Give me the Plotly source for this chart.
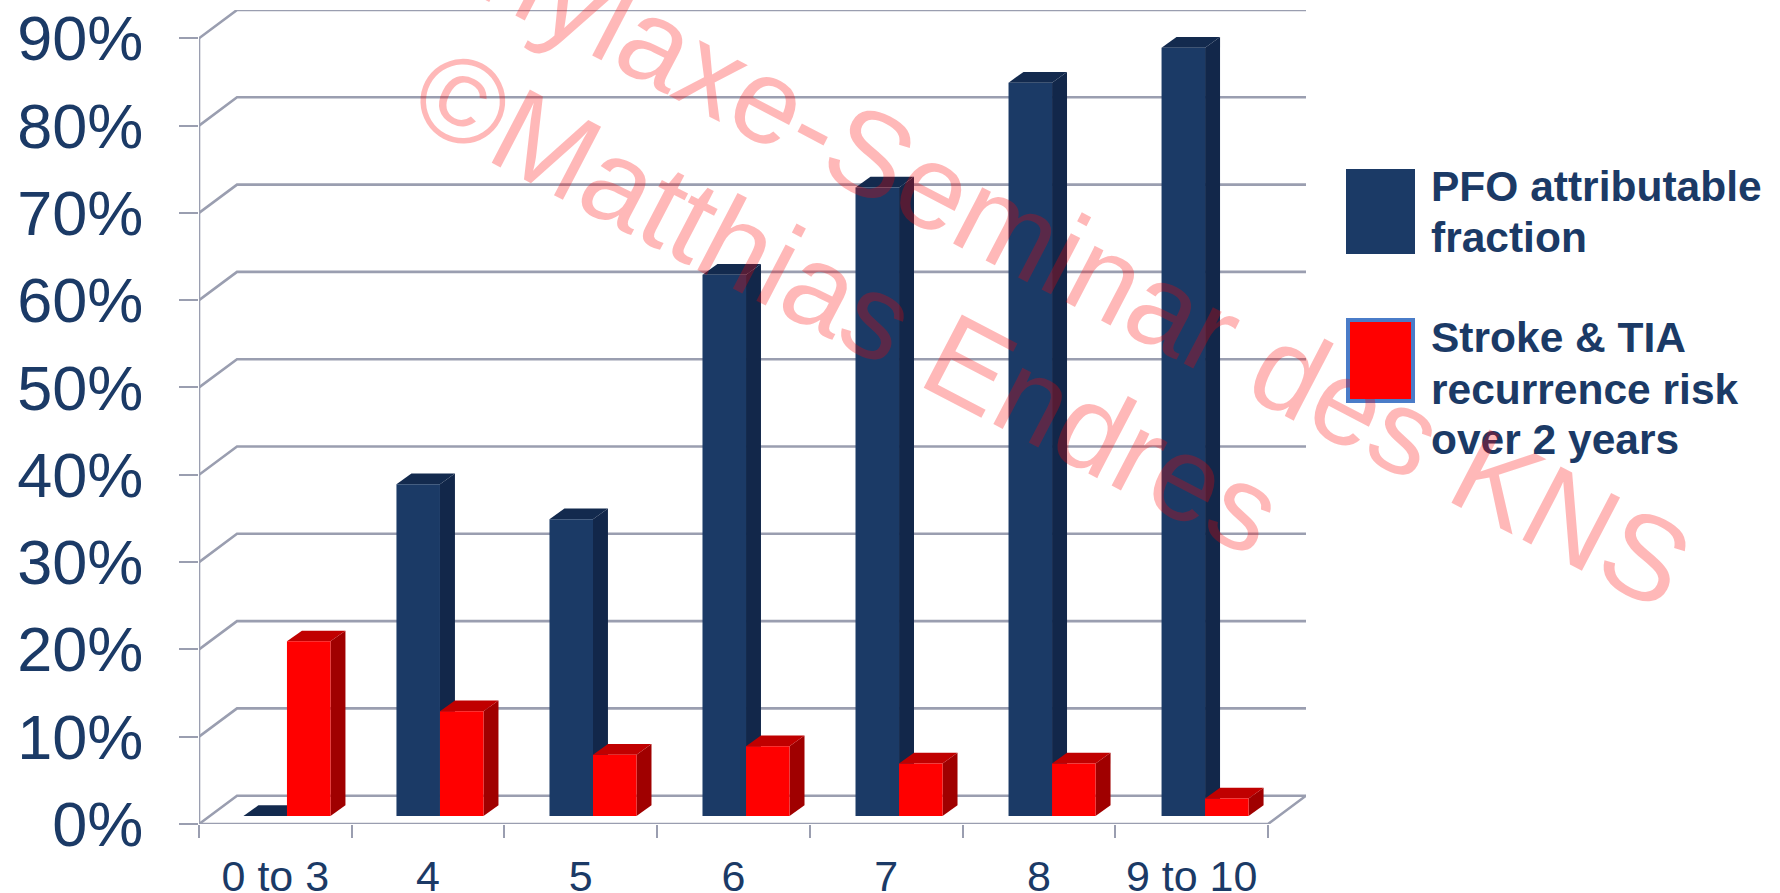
import plotly.graph_objects as go

# Chart data
categories = ["0 to 3", "4", "5", "6", "7", "8", "9 to 10"]
pfo_fraction = [0, 38, 34, 62, 72, 84, 88]
recurrence_risk = [20, 12, 7, 8, 6, 6, 2]
percent_ticks = [0, 10, 20, 30, 40, 50, 60, 70, 80, 90]
percent_labels = ["0%", "10%", "20%", "30%", "40%", "50%", "60%", "70%", "80%", "90%"]
series_names = [["PFO attributable", "fraction"],
                ["Stroke & TIA", "recurrence risk", "over 2 years"]]

# Canvas and plot placement, in pixels
W, H = 1780, 893
LEFT, RIGHT, TOP, BOTTOM = 199, 1306, 10, 824

# Perspective offsets, in axis units
WALL_DX, WALL_DY = 0.2489, 3.24
BAR_DX, BAR_DY = 0.098, 1.23
BAR_WIDTH, BAR_FLOOR = 0.285, 0.92
BAR_PITCH, BAR_SPLIT = 1.002, 0.576

INK = "#1B3A66"
GRID = "#9A9EB0"
NAVY, NAVY_SIDE, NAVY_TOP = "#1B3A66", "#12274A", "#132A4E"
RED, RED_SIDE, RED_TOP = "#FF0000", "#A00000", "#C00000"

n = len(categories)
x_max = n + WALL_DX
y_max = percent_ticks[-1] + WALL_DY


def data_x(px):
    return (px - LEFT) / (RIGHT - LEFT) * x_max


def data_y(py):
    return (BOTTOM - py) / (BOTTOM - TOP) * y_max


fig = go.Figure()


def add_line(xs, ys):
    fig.add_trace(go.Scatter(x=xs, y=ys, mode="lines", cliponaxis=False,
                             line=dict(color=GRID, width=2.6), hoverinfo="skip",
                             showlegend=False))


def add_face(xs, ys, color):
    fig.add_trace(go.Scatter(x=xs, y=ys, mode="lines", fill="toself", fillcolor=color,
                             line=dict(width=0), cliponaxis=False, hoverinfo="skip",
                             showlegend=False))


# Back wall gridlines with their slanted run back from the value axis
for v in percent_ticks:
    add_line([0, WALL_DX, n + WALL_DX], [v, v + WALL_DY, v + WALL_DY])

# Floor front edge, right floor edge and the value axis
add_line([0, n, n + WALL_DX], [0, 0, WALL_DY])
add_line([0, 0], [0, percent_ticks[-1]])

bar_lefts = [[BAR_SPLIT + BAR_PITCH * i - BAR_WIDTH for i in range(n)],
             [BAR_SPLIT + BAR_PITCH * i for i in range(n)]]

# Extruded side and top faces sit behind the front faces
series = [(pfo_fraction, bar_lefts[0], NAVY, NAVY_SIDE, NAVY_TOP),
          (recurrence_risk, bar_lefts[1], RED, RED_SIDE, RED_TOP)]
for values, lefts, front, side, top in series:
    for x0, v in zip(lefts, values):
        x1 = x0 + BAR_WIDTH
        y1 = v + BAR_FLOOR
        if v > 0:
            add_face([x1, x1 + BAR_DX, x1 + BAR_DX, x1],
                     [BAR_FLOOR, BAR_FLOOR + BAR_DY, y1 + BAR_DY, y1], side)
        add_face([x0, x0 + BAR_DX, x1 + BAR_DX, x1],
                 [y1, y1 + BAR_DY, y1 + BAR_DY, y1], top)

# Front faces
for values, lefts, front, side, top in series:
    fig.add_trace(go.Bar(x=[x + BAR_WIDTH / 2 for x in lefts], y=values,
                         base=BAR_FLOOR, width=BAR_WIDTH, zorder=2,
                         marker=dict(color=front, line=dict(width=0)),
                         cliponaxis=False, showlegend=False))

# Legend swatches and labels
shapes = [
    dict(type="rect", xref="paper", yref="paper", x0=1346 / W, x1=1415 / W,
         y0=1 - 169 / H, y1=1 - 254 / H, fillcolor=NAVY, line=dict(width=0)),
    dict(type="rect", xref="paper", yref="paper", x0=1348 / W, x1=1413 / W,
         y0=1 - 320 / H, y1=1 - 401 / H, fillcolor=RED,
         line=dict(color="#4A7CC8", width=4)),
]

legend_centers = [[186, 237], [337, 389, 440]]
annotations = []
for lines, centers in zip(series_names, legend_centers):
    for text, cy in zip(lines, centers):
        annotations.append(dict(
            text=f"<b>{text}</b>", xref="paper", yref="paper", x=1429 / W, y=1 - cy / H,
            xanchor="left", yanchor="middle", showarrow=False,
            font=dict(family="Liberation Sans", size=42.5, color=INK)))

# Diagonal copyright notices laid over the whole chart
WATERMARK = "rgba(255,0,0,0.28)"
for text, cx, cy in [("Prophylaxe-Seminar des KNS", 974, 207),
                     ("©Matthias Endres", 848, 301)]:
    annotations.append(dict(
        text=text, xref="x", yref="y", x=data_x(cx), y=data_y(cy),
        xanchor="center", yanchor="middle", showarrow=False, textangle=27.5,
        font=dict(family="Liberation Sans", size=120, color=WATERMARK)))

fig.update_layout(
    width=W, height=H, margin=dict(l=0, r=0, t=0, b=0),
    paper_bgcolor="white", plot_bgcolor="white", barmode="overlay",
    font=dict(family="Liberation Sans", color=INK), showlegend=False,
    shapes=shapes, annotations=annotations,
    xaxis=dict(domain=[LEFT / W, RIGHT / W], range=[0, x_max], showgrid=False,
               zeroline=False, showline=False, automargin=False,
               tickvals=[i + 0.5 for i in range(n)], ticktext=categories,
               ticks="", ticklabelstandoff=23, tickfont=dict(size=43, color=INK),
               minor=dict(tickvals=list(range(n + 1)), ticks="outside", ticklen=13,
                          tickwidth=2.4, tickcolor=GRID)),
    yaxis=dict(domain=[1 - BOTTOM / H, 1 - TOP / H],
               range=[0, y_max], showgrid=False, zeroline=False, automargin=False,
               showline=False, tickvals=percent_ticks, ticktext=percent_labels,
               ticks="outside", ticklen=19, tickwidth=2.4, tickcolor=GRID,
               ticklabelstandoff=23, tickfont=dict(size=63, color=INK)),
)

fig.write_html("out.html", config=dict(displayModeBar=False))
